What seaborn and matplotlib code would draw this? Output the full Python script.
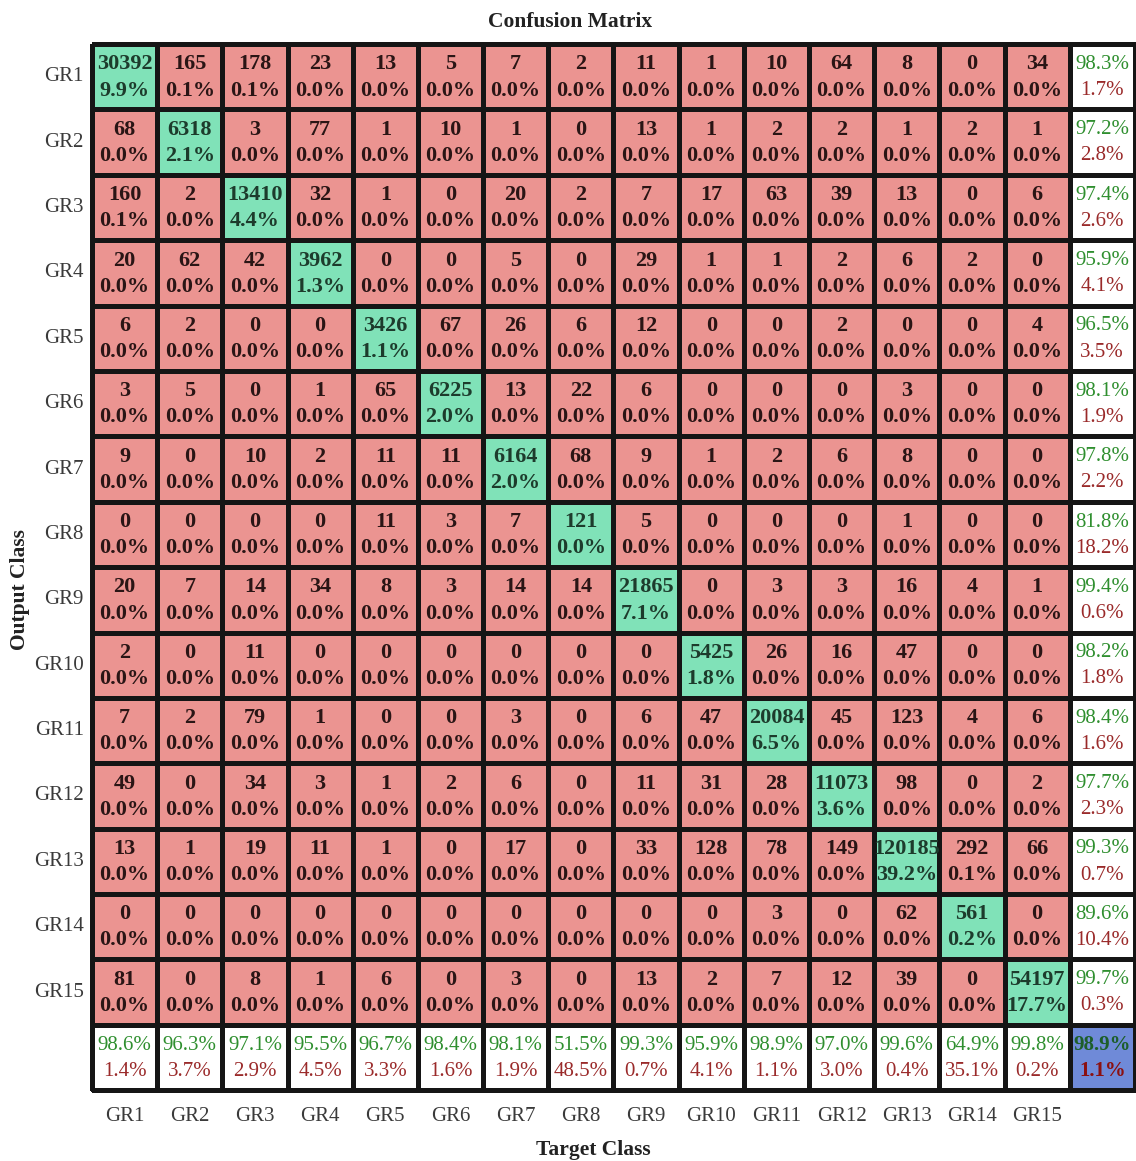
import numpy as np
import matplotlib
matplotlib.use("Agg")
import matplotlib.pyplot as plt
from matplotlib.colors import ListedColormap
import seaborn as sns

classes = ["GR1", "GR2", "GR3", "GR4", "GR5", "GR6", "GR7", "GR8",
           "GR9", "GR10", "GR11", "GR12", "GR13", "GR14", "GR15"]

# rows = output class, columns = target class
counts = [
    [30392, 165, 178, 23, 13, 5, 7, 2, 11, 1, 10, 64, 8, 0, 34],
    [68, 6318, 3, 77, 1, 10, 1, 0, 13, 1, 2, 2, 1, 2, 1],
    [160, 2, 13410, 32, 1, 0, 20, 2, 7, 17, 63, 39, 13, 0, 6],
    [20, 62, 42, 3962, 0, 0, 5, 0, 29, 1, 1, 2, 6, 2, 0],
    [6, 2, 0, 0, 3426, 67, 26, 6, 12, 0, 0, 2, 0, 0, 4],
    [3, 5, 0, 1, 65, 6225, 13, 22, 6, 0, 0, 0, 3, 0, 0],
    [9, 0, 10, 2, 11, 11, 6164, 68, 9, 1, 2, 6, 8, 0, 0],
    [0, 0, 0, 0, 11, 3, 7, 121, 5, 0, 0, 0, 1, 0, 0],
    [20, 7, 14, 34, 8, 3, 14, 14, 21865, 0, 3, 3, 16, 4, 1],
    [2, 0, 11, 0, 0, 0, 0, 0, 0, 5425, 26, 16, 47, 0, 0],
    [7, 2, 79, 1, 0, 0, 3, 0, 6, 47, 20084, 45, 123, 4, 6],
    [49, 0, 34, 3, 1, 2, 6, 0, 11, 31, 28, 11073, 98, 0, 2],
    [13, 1, 19, 11, 1, 0, 17, 0, 33, 128, 78, 149, 120185, 292, 66],
    [0, 0, 0, 0, 0, 0, 0, 0, 0, 0, 3, 0, 62, 561, 0],
    [81, 0, 8, 1, 6, 0, 3, 0, 13, 2, 7, 12, 39, 0, 54197],
]

row_correct = [98.3, 97.2, 97.4, 95.9, 96.5, 98.1, 97.8, 81.8,
               99.4, 98.2, 98.4, 97.7, 99.3, 89.6, 99.7]
col_correct = [98.6, 96.3, 97.1, 95.5, 96.7, 98.4, 98.1, 51.5,
               99.3, 95.9, 98.9, 97.0, 99.6, 64.9, 99.8]
overall_correct = 98.9

sns.set_theme(style="white")
plt.rcParams['font.family'] = ['Liberation Serif', 'DejaVu Serif']

n = len(classes)
cm = np.array(counts)
total = cm.sum()

# colour code per cell: 0 wrong, 1 correct, 2 summary, 3 overall
codes = np.zeros((n + 1, n + 1))
np.fill_diagonal(codes, 1)
codes[n, :] = 2
codes[:, n] = 2
codes[n, n] = 3

cmap = ListedColormap(["#eb9491", "#80e2b8", "#ffffff", "#6f8ad8"])
green = "#2f8f2f"
red = "#9a2a2a"

fig = plt.figure(figsize=(11.36, 11.61), dpi=100)
ax = fig.add_axes([0.081, 0.061, 0.918, 0.901])
sns.heatmap(codes, cmap=cmap, vmin=-0.5, vmax=3.5, cbar=False,
            linewidths=2.2, linecolor="#151515", ax=ax,
            xticklabels=classes + [""], yticklabels=classes + [""])
for coll in ax.collections:
    coll.set_clip_on(False)

for i in range(n):
    for j in range(n):
        col = "#1d3b2c" if i == j else "#2a1515"
        ax.text(j + 0.5, i + 0.31, str(cm[i, j]), ha="center", va="center",
                fontsize=16, fontweight="bold", color=col)
        ax.text(j + 0.5, i + 0.71, f"{100 * cm[i, j] / total:.1f}%",
                ha="center", va="center", fontsize=16, fontweight="bold",
                color=col)

for i in range(n):
    ax.text(n + 0.5, i + 0.31, f"{row_correct[i]:.1f}%", ha="center",
            va="center", fontsize=15, color=green)
    ax.text(n + 0.5, i + 0.71, f"{100 - row_correct[i]:.1f}%", ha="center",
            va="center", fontsize=15, color=red)
    ax.text(i + 0.5, n + 0.31, f"{col_correct[i]:.1f}%", ha="center",
            va="center", fontsize=15, color=green)
    ax.text(i + 0.5, n + 0.71, f"{100 - col_correct[i]:.1f}%", ha="center",
            va="center", fontsize=15, color=red)

ax.text(n + 0.5, n + 0.31, f"{overall_correct:.1f}%", ha="center",
        va="center", fontsize=15, fontweight="bold", color="#1d5e2a")
ax.text(n + 0.5, n + 0.71, f"{100 - overall_correct:.1f}%", ha="center",
        va="center", fontsize=15, fontweight="bold", color="#8b1010")

ax.tick_params(axis="both", length=0, labelsize=15, labelcolor="#3a3a3a")
ax.tick_params(axis="x", pad=12)
ax.tick_params(axis="y", pad=6)
plt.setp(ax.get_yticklabels(), rotation=0)
plt.setp(ax.get_xticklabels(), rotation=0)

fig.text(570 / 1136, 1 - 22 / 1161, "Confusion Matrix", ha="center",
         va="center", fontsize=15.5, fontweight="bold", color="#222222")
fig.text(593 / 1136, 1 - 1150 / 1161, "Target Class", ha="center",
         va="center", fontsize=15.5, fontweight="bold", color="#222222")
fig.text(20 / 1136, 1 - 590 / 1161, "Output Class", ha="center",
         va="center", rotation=90, fontsize=15.5, fontweight="bold",
         color="#222222")

fig.savefig("out.png", dpi=100)
